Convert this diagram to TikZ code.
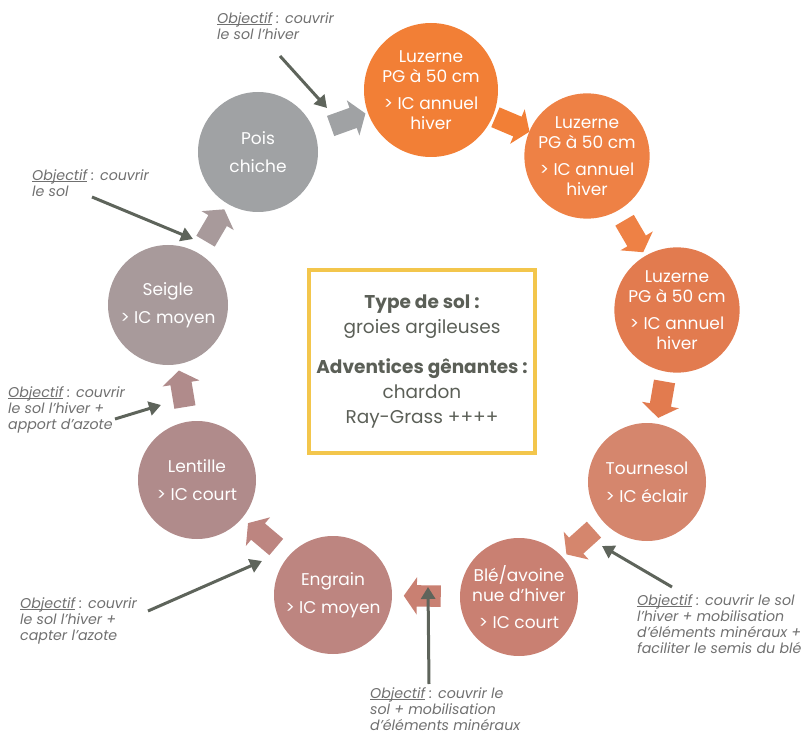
\documentclass[tikz,border=0pt]{standalone}
\usepackage{fontspec}
\setmainfont{Poppins}
\usetikzlibrary{shapes.arrows,arrows.meta}
\definecolor{cluzA}{HTML}{F27F36}
\definecolor{cluzB}{HTML}{EE8145}
\definecolor{cluzC}{HTML}{E27B4F}
\definecolor{ctour}{HTML}{D5866D}
\definecolor{cble}{HTML}{C98072}
\definecolor{cengr}{HTML}{BD8580}
\definecolor{clent}{HTML}{B08B8B}
\definecolor{cseig}{HTML}{A89A9B}
\definecolor{cpois}{HTML}{A0A2A4}
\definecolor{notegray}{HTML}{707070}
\definecolor{ptrgray}{HTML}{5E645B}
\definecolor{boxyellow}{HTML}{F3C64C}
\definecolor{boxtext}{HTML}{5B5F57}
\newcommand\obj{\setbox0\hbox{Objectif}\rlap{\rule[-1.3pt]{\wd0}{0.6pt}}\box0\ :}
\begin{document}
\begin{tikzpicture}[x=1pt,y=-1pt,
  crop/.style={circle, fill=#1, text=white, inner sep=0pt, minimum size=118pt, align=center, font=\fontsize{17}{20}\selectfont},
  blockarr/.style={single arrow, fill=#1, draw=none, minimum height=37pt, inner xsep=0pt, inner ysep=10.5pt, single arrow head extend=8pt, single arrow tip angle=110, sloped, allow upside down},
  note/.style={anchor=north west, align=left, text=notegray, font=\itshape\fontsize{14.2}{16.3}\selectfont, inner sep=0pt},
  pointer/.style={draw=ptrgray, line width=3pt, -{Triangle[length=12pt,width=14pt]}}
]
\useasboundingbox (0,0) rectangle (801,738);
% crops
\node[crop=cluzA, minimum size=134pt] (luzA) at (431,90) {Luzerne\\PG à 50 cm\\[7pt]> IC annuel\\hiver};
\node[crop=cluzB] (luzB) at (587,156) {Luzerne\\PG à 50 cm\\[7pt]> IC annuel\\hiver};
\node[crop=cluzC] (luzC) at (677,310) {Luzerne\\PG à 50 cm\\[7pt]> IC annuel\\hiver};
\node[crop=ctour] (tour) at (647,482) {Tournesol\\[8pt]> IC éclair};
\node[crop=cble] (ble) at (519,597) {Blé/avoine\\nue d'hiver\\[7pt]> IC court};
\node[crop=cengr] (engr) at (333,595) {Engrain\\[8pt]> IC moyen};
\node[crop=clent] (lent) at (197,480) {Lentille\\[8pt]> IC court};
\node[crop=cseig, minimum size=120pt] (seig) at (168,305) {Seigle\\[8pt]> IC moyen};
\node[crop=cpois, minimum size=120pt] (pois) at (258,152) {Pois\\[8pt]chiche};
% block arrows
\path (pois.center) -- node[blockarr=cpois] {} (luzA.center);
\path (luzA.center) -- node[blockarr=cluzA] {} (luzB.center);
\path (luzB.center) -- node[blockarr=cluzB] {} (luzC.center);
\path (luzC.center) -- node[blockarr=cluzC] {} (tour.center);
\path (tour.center) -- node[blockarr=ctour] {} (ble.center);
\path (ble.center) -- node[blockarr=cble] {} (engr.center);
\path (engr.center) -- node[blockarr=cengr] {} (lent.center);
\path (lent.center) -- node[blockarr=clent] {} (seig.center);
\path (seig.center) -- node[blockarr=cseig] {} (pois.center);
% central box
\node[draw=boxyellow, line width=4.5pt, minimum width=226pt, minimum height=183pt, text=boxtext, align=center, font=\fontsize{18.5}{25}\selectfont] (box) at (422,361.5)
 {{\bfseries Type de sol :}\\groies argileuses\\[15pt]{\bfseries Adventices gênantes :}\\chardon\\Ray-Grass ++++};
% notes
\node[note] (n1) at (217,12) {\obj{} couvrir\\le sol l'hiver};
\node[note] (n2) at (32,169) {\obj{} couvrir\\le sol};
\node[note] (n3) at (8,386) {\obj{} couvrir\\le sol l'hiver +\\apport d'azote};
\node[note] (n4) at (20,597) {\obj{} couvrir\\le sol l'hiver +\\capter l'azote};
\node[note] (n5) at (370,687) {\obj{} couvrir le\\sol + mobilisation\\d'éléments minéraux};
\node[note] (n6) at (637,594) {\obj{} couvrir le sol\\l'hiver + mobilisation\\d'éléments minéraux +\\faciliter le semis du blé};
% pointer ends
\coordinate (s1) at (280,56); \coordinate (t1) at (327,108);
\coordinate (s2) at (92,197); \coordinate (t2) at (193,239);
\coordinate (s3) at (115,419); \coordinate (t3) at (161,405);
\coordinate (s4) at (148,611); \coordinate (t4) at (262,561);
\coordinate (s5) at (429,684); \coordinate (t5) at (428,587);
\coordinate (s6) at (672,587); \coordinate (t6) at (602,546);
\draw[pointer] (s1) -- (t1);
\draw[pointer] (s2) -- (t2);
\draw[pointer] (s3) -- (t3);
\draw[pointer] (s4) -- (t4);
\draw[pointer] (s5) -- (t5);
\draw[pointer] (s6) -- (t6);
\end{tikzpicture}
\end{document}
